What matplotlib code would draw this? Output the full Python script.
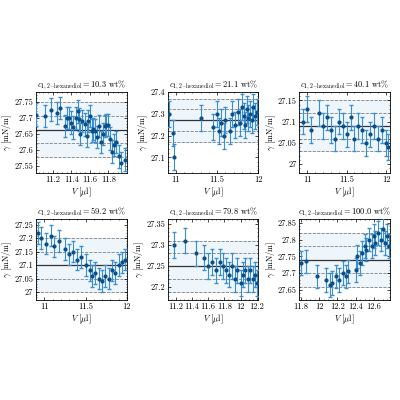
import numpy as np
import matplotlib.pyplot as plt

plt.rcParams['font.family'] = 'serif'
plt.rcParams['font.serif'] = ['cmr10', 'DejaVu Serif']
plt.rcParams['mathtext.fontset'] = 'cm'
plt.rcParams['axes.formatter.use_mathtext'] = True
plt.rcParams['font.size'] = 6

titles = ['10.3', '21.1', '40.1', '59.2', '79.8', '100.0']

vol = [
    [11.02, 11.12, 11.18, 11.25, 11.28, 11.33, 11.36, 11.38, 11.40, 11.42, 11.45, 11.47, 11.48, 11.50, 11.52, 11.55, 11.57, 11.58, 11.60, 11.62, 11.64, 11.66, 11.68, 11.70, 11.72, 11.74, 11.76, 11.78, 11.80, 11.82, 11.84, 11.86, 11.88, 11.92, 11.94, 11.98],
    [10.92, 10.96, 10.98, 11.30, 11.45, 11.50, 11.52, 11.55, 11.58, 11.60, 11.65, 11.68, 11.72, 11.75, 11.78, 11.80, 11.82, 11.84, 11.86, 11.88, 11.90, 11.92, 11.94, 11.96, 11.98],
    [10.95, 11.00, 11.05, 11.15, 11.20, 11.25, 11.30, 11.35, 11.40, 11.45, 11.50, 11.55, 11.60, 11.65, 11.70, 11.75, 11.80, 11.85, 11.90, 11.95, 12.00, 12.03],
    [10.92, 10.96, 11.02, 11.08, 11.12, 11.18, 11.25, 11.30, 11.35, 11.40, 11.45, 11.50, 11.55, 11.58, 11.62, 11.66, 11.70, 11.74, 11.78, 11.82, 11.86, 11.90, 11.94, 11.98],
    [11.18, 11.32, 11.45, 11.55, 11.60, 11.65, 11.70, 11.75, 11.78, 11.82, 11.86, 11.90, 11.93, 11.96, 12.00, 12.03, 12.06, 12.09, 12.12, 12.15, 12.18, 12.20],
    [11.80, 11.85, 11.98, 12.08, 12.12, 12.14, 12.18, 12.22, 12.26, 12.30, 12.32, 12.40, 12.42, 12.45, 12.47, 12.50, 12.52, 12.55, 12.58, 12.60, 12.62, 12.65, 12.68, 12.70, 12.72, 12.75, 12.77],
]
gamma = [
    [27.71, 27.705, 27.725, 27.715, 27.73, 27.675, 27.70, 27.70, 27.685, 27.67, 27.70, 27.72, 27.695, 27.65, 27.69, 27.68, 27.645, 27.69, 27.705, 27.66, 27.665, 27.66, 27.64, 27.675, 27.625, 27.65, 27.675, 27.678, 27.678, 27.635, 27.595, 27.615, 27.625, 27.58, 27.56, 27.57],
    [27.30, 27.21, 27.10, 27.28, 27.24, 27.30, 27.22, 27.26, 27.20, 27.27, 27.22, 27.30, 27.25, 27.31, 27.26, 27.33, 27.29, 27.25, 27.32, 27.28, 27.30, 27.27, 27.33, 27.29, 27.31],
    [27.10, 27.13, 27.08, 27.12, 27.09, 27.11, 27.08, 27.06, 27.10, 27.09, 27.07, 27.11, 27.06, 27.09, 27.08, 27.05, 27.07, 27.09, 27.06, 27.08, 27.05, 27.04],
    [27.22, 27.20, 27.18, 27.21, 27.17, 27.19, 27.16, 27.14, 27.15, 27.12, 27.13, 27.10, 27.08, 27.06, 27.07, 27.05, 27.04, 27.06, 27.05, 27.08, 27.07, 27.10, 27.11, 27.12],
    [27.30, 27.31, 27.28, 27.27, 27.25, 27.26, 27.24, 27.26, 27.25, 27.24, 27.23, 27.25, 27.22, 27.24, 27.21, 27.23, 27.24, 27.22, 27.24, 27.22, 27.23, 27.21],
    [27.73, 27.735, 27.69, 27.68, 27.665, 27.67, 27.69, 27.68, 27.70, 27.69, 27.705, 27.71, 27.75, 27.73, 27.76, 27.78, 27.77, 27.80, 27.78, 27.81, 27.79, 27.82, 27.80, 27.83, 27.79, 27.81, 27.78],
]
err = [0.035, 0.06, 0.03, 0.04, 0.03, 0.035]
means = [27.663, 27.27, 27.09, 27.10, 27.25, 27.74]
sigmas = [0.0425, 0.05, 0.03, 0.05, 0.03, 0.04]
ylims = [(27.53, 27.78), (27.03, 27.40), (26.98, 27.17), (26.97, 27.27), (27.17, 27.36), (27.62, 27.86)]
xlims = [(11.02, 12.0), (10.9, 12.0), (10.9, 12.05), (10.9, 12.0), (11.1, 12.22), (11.78, 12.78)]
xticks = [[11.2, 11.4, 11.6, 11.8], [11, 11.5, 12], [11, 11.5, 12], [11, 11.5, 12], [11.2, 11.4, 11.6, 11.8, 12, 12.2], [11.8, 12, 12.2, 12.4, 12.6]]
yticks = [[27.55, 27.6, 27.65, 27.7, 27.75], [27.1, 27.2, 27.3, 27.4], [27, 27.05, 27.1, 27.15], [27, 27.05, 27.1, 27.15, 27.2, 27.25], [27.2, 27.25, 27.3, 27.35], [27.65, 27.7, 27.75, 27.8, 27.85]]

fig, axes = plt.subplots(2, 3, figsize=(4, 4), dpi=100)
plt.subplots_adjust(left=0.09, right=0.975, top=0.77, bottom=0.25, wspace=0.45, hspace=0.58)

for i, ax in enumerate(axes.flat):
    m, s = means[i], sigmas[i]
    ax.axhspan(m - 2 * s, m + 2 * s, color='#e8f1fa', alpha=0.7, zorder=0)
    for k in (-2, -1, 1, 2):
        ax.axhline(m + k * s, color='gray', ls='--', lw=0.6, zorder=1)
    ax.axhline(m, color='#333333', lw=0.9, zorder=2)
    ax.errorbar(vol[i], gamma[i], yerr=err[i], fmt='o', ms=2, color='#0b4f86',
                ecolor='#3a8fd0', elinewidth=0.8, capsize=1.2, zorder=3)
    ax.set_xlim(*xlims[i])
    ax.set_ylim(*ylims[i])
    ax.set_xticks(xticks[i])
    ax.set_yticks(yticks[i])
    ax.set_xticklabels([f'{t:g}' for t in xticks[i]])
    ax.set_yticklabels([f'{t:g}' for t in yticks[i]])
    ax.tick_params(direction='in', top=True, right=True, length=2, width=0.5, labelsize=6, pad=2)
    ax.minorticks_on()
    ax.tick_params(which='minor', direction='in', top=True, right=True, length=1, width=0.4)
    ax.set_title(r'$c_{1,2\mathrm{-hexanediol}} = %s$ wt%%' % titles[i], fontsize=6, pad=3)
    ax.set_xlabel(r'$V$ [$\mu$l]', fontsize=6, labelpad=1)
    ax.set_ylabel(r'$\gamma$ [mN/m]', fontsize=6, labelpad=0)
    for sp in ax.spines.values():
        sp.set_linewidth(0.6)

plt.savefig('out.png', dpi=100)
